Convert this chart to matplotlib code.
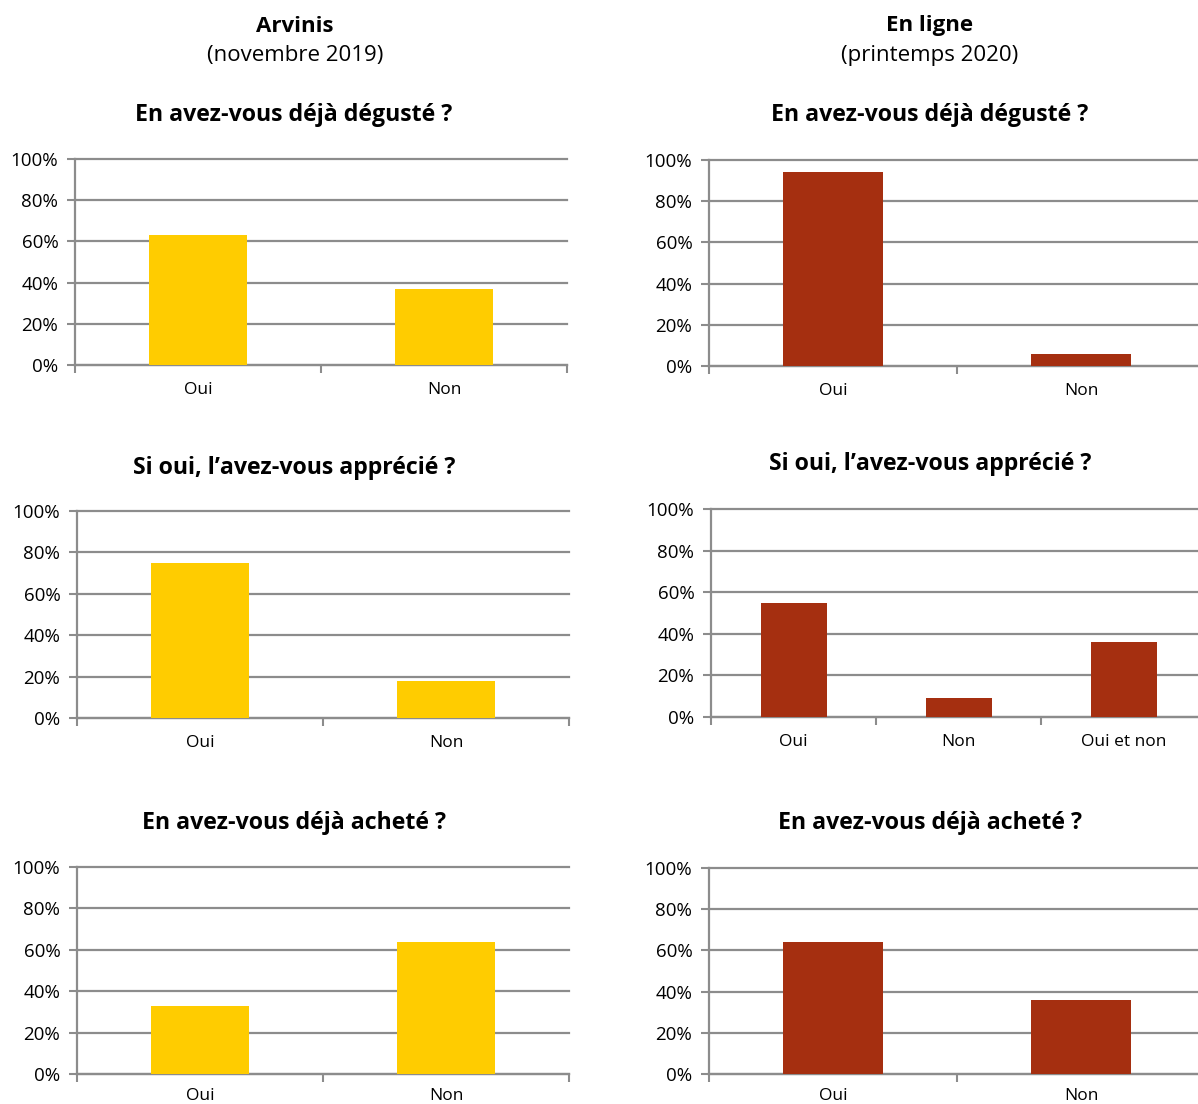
import matplotlib.pyplot as plt
from matplotlib.ticker import FixedLocator, FuncFormatter

plt.rcParams['font.family'] = ['Open Sans', 'DejaVu Sans']

# categories
cats_2 = ["Oui", "Non"]
cats_3 = ["Oui", "Non", "Oui et non"]

# answers in percent
arvinis_deguste = [63, 37]
arvinis_apprecie = [75, 18]
arvinis_achete = [33, 64]
ligne_deguste = [94, 6]
ligne_apprecie = [55, 9, 36]
ligne_achete = [64, 36]

questions = ["En avez-vous déjà dégusté ?",
             "Si oui, l\u2019avez-vous apprécié ?",
             "En avez-vous déjà acheté ?"]
y_ticks = [0, 20, 40, 60, 80, 100]

YELLOW = "#FFCC00"
RED = "#A52F10"
GREY = "#8c8c8c"

W, H = 1198, 1104
fig = plt.figure(figsize=(W / 100, H / 100), dpi=100)


def px_axes(x0, y0, x1, y1):
    # pixel box (top-left origin) -> figure axes
    return fig.add_axes([x0 / W, 1 - y1 / H, (x1 - x0) / W, (y1 - y0) / H])


def bar_panel(box, cats, vals, color, xpad=12):
    ax = px_axes(*box)
    n = len(cats)
    x = list(range(n))
    ax.bar(x, vals, width=0.4, color=color, zorder=3)
    ax.set_xlim(-0.5, n - 0.5)
    ax.set_ylim(0, 100)
    ax.set_yticks(y_ticks)
    ax.yaxis.set_major_formatter(FuncFormatter(lambda v, p: f"{int(v)}%"))
    ax.set_xticks(x)
    ax.set_xticklabels(cats)
    ax.xaxis.set_minor_locator(FixedLocator([i - 0.5 for i in range(n + 1)]))
    ax.tick_params(axis='x', which='major', length=0, labelsize=12.5, pad=xpad)
    ax.tick_params(axis='x', which='minor', length=6, width=1.5, color=GREY)
    ax.tick_params(axis='y', length=6, width=1.5, color=GREY, labelsize=13.5, pad=6)
    ax.grid(axis='y', color=GREY, linewidth=1.6, zorder=1)
    for gl in ax.get_ygridlines():
        gl.set_clip_on(False)
    for s in ['top', 'right']:
        ax.spines[s].set_visible(False)
    for s in ['left', 'bottom']:
        ax.spines[s].set_color(GREY)
        ax.spines[s].set_linewidth(1.6)
    ax.set_axisbelow(True)
    return ax


left_boxes = [(75, 159, 567, 365), (77, 511, 569, 718), (77, 867, 569, 1074)]
right_boxes = [(709, 160, 1205, 366), (711, 509, 1206, 717), (709, 868, 1205, 1074)]

bar_panel(left_boxes[0], cats_2, arvinis_deguste, YELLOW)
bar_panel(left_boxes[1], cats_2, arvinis_apprecie, YELLOW)
bar_panel(left_boxes[2], cats_2, arvinis_achete, YELLOW, xpad=10)
bar_panel(right_boxes[0], cats_2, ligne_deguste, RED)
bar_panel(right_boxes[1], cats_3, ligne_apprecie, RED)
bar_panel(right_boxes[2], cats_2, ligne_achete, RED, xpad=10)

# column headings
for cx, name, period in [(295, "Arvinis", "(novembre 2019)"),
                         (930, "En ligne", "(printemps 2020)")]:
    fig.text(cx / W, 1 - 26 / H, name, ha='center', va='center',
             fontsize=16, fontweight='bold')
    fig.text(cx / W, 1 - 55 / H, period, ha='center', va='center', fontsize=16)

# question titles
left_title_y = [115, 468, 823]
right_title_y = [115, 464, 823]
for q, ly, ry in zip(questions, left_title_y, right_title_y):
    fig.text(294 / W, 1 - ly / H, q, ha='center', va='center',
             fontsize=16.7, fontweight='bold')
    fig.text(930 / W, 1 - ry / H, q, ha='center', va='center',
             fontsize=16.7, fontweight='bold')

fig.savefig("out.png", dpi=100, facecolor='white')
